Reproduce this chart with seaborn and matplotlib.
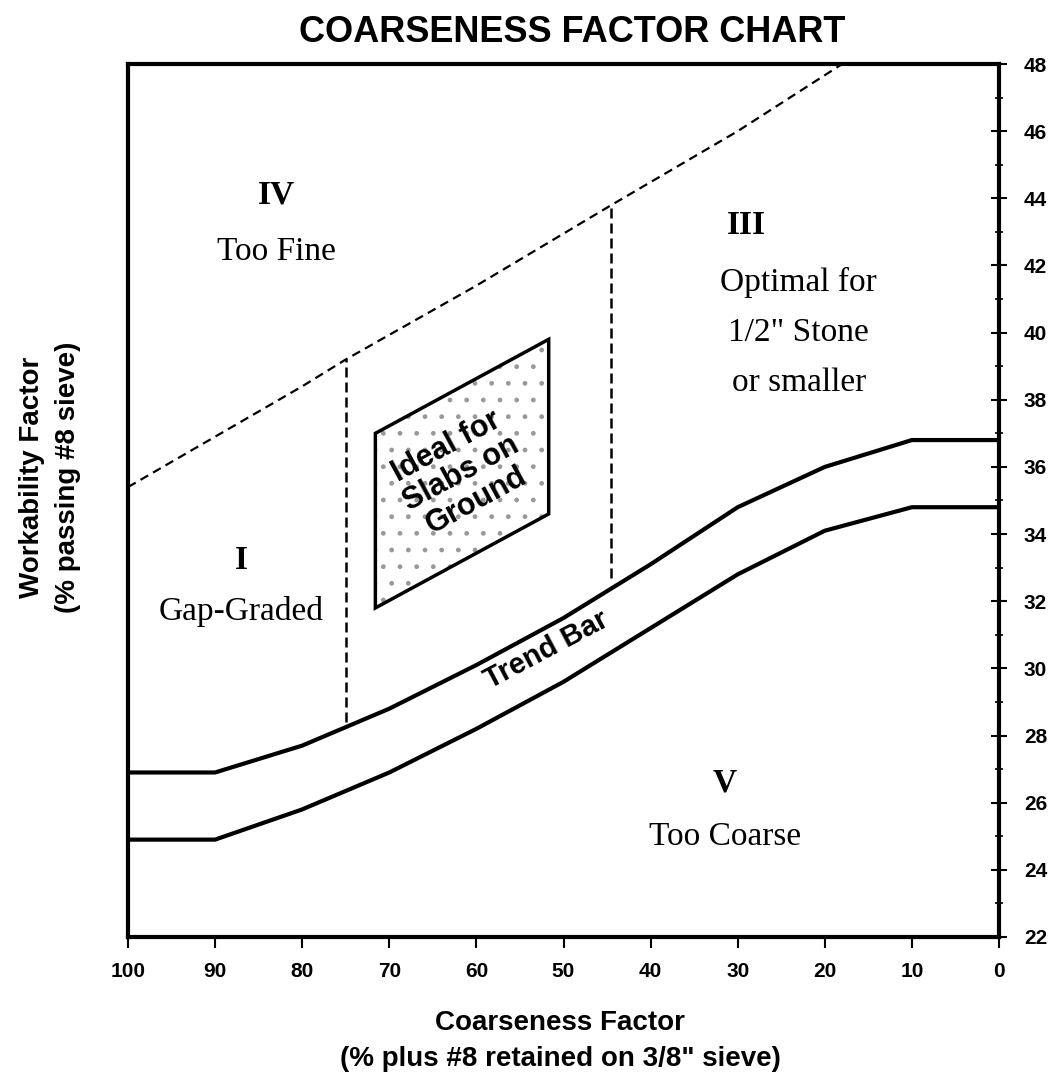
import matplotlib
matplotlib.use("Agg")
import matplotlib.pyplot as plt
import seaborn as sns

# trend bar edges
trend_x = [100, 90, 80, 70, 60, 50, 40, 30, 20, 10, 0]
trend_upper = [26.9, 26.9, 27.7, 28.8, 30.1, 31.5, 33.1, 34.8, 36.0, 36.8, 36.8]
trend_lower = [24.9, 24.9, 25.8, 26.9, 28.2, 29.6, 31.2, 32.8, 34.1, 34.8, 34.8]

# dashed boundary of zone IV (too fine)
fine_x = [100, 90, 80, 75, 60, 44.5, 30, 18]
fine_y = [35.4, 36.9, 38.4, 39.2, 41.4, 43.8, 46.0, 48.0]

# dashed zone dividers
divider_x = [75, 44.5]
divider_bottom = [28.4, 32.7]
divider_top = [39.2, 43.8]

# "ideal for slabs on ground" box corners
box_x = [71.6, 51.7, 51.7, 71.6]
box_y = [31.8, 34.6, 39.8, 37.0]

x_ticks = list(range(100, -1, -10))
y_ticks = list(range(22, 49, 2))
y_minor = list(range(23, 48, 2))

sns.set_theme(style="white")
plt.rcParams['font.family'] = ['Liberation Sans', 'DejaVu Sans']
plt.rcParams['text.color'] = 'black'
plt.rcParams['axes.labelcolor'] = 'black'

fig = plt.figure(figsize=(10.54, 10.91), dpi=100)
ax = fig.add_axes([128 / 1054, 1 - 937 / 1091, 871 / 1054, 873 / 1091])

# trend bar
sns.lineplot(x=trend_x, y=trend_upper, ax=ax, color='black', linewidth=3, sort=False)
sns.lineplot(x=trend_x, y=trend_lower, ax=ax, color='black', linewidth=3, sort=False)

# dashed zone lines
sns.lineplot(x=fine_x, y=fine_y, ax=ax, color='black', linewidth=1.6,
             linestyle=(0, (4, 2.5)), sort=False)
ax.vlines(divider_x, divider_bottom, divider_top, colors='black',
          linewidth=1.8, linestyles=(0, (4, 2)))

# stippled box
ax.fill(box_x, box_y, facecolor='white', edgecolor='0.6', hatch='.', linewidth=0)
ax.fill(box_x, box_y, facecolor='none', edgecolor='black', linewidth=2.5)
ax.text(61.7, 35.8, "Ideal for\nSlabs on\nGround", rotation=28.5, ha='center', va='center',
        fontsize=22, fontweight='bold', linespacing=1.05, rotation_mode='anchor')

ax.text(52, 30.55, "Trend Bar", rotation=28, ha='center', va='center',
        fontsize=21, fontweight='bold', rotation_mode='anchor')

# zone labels
serif = ['Liberation Serif', 'DejaVu Serif']
ax.text(83, 44.1, "IV", family=serif, fontsize=24, fontweight='bold', ha='center', va='center')
ax.text(83, 42.4, "Too Fine", family=serif, fontsize=24, ha='center', va='center')
ax.text(29, 43.2, "III", family=serif, fontsize=24, fontweight='bold', ha='center', va='center')
ax.text(23, 41.5, "Optimal for", family=serif, fontsize=24, ha='center', va='center')
ax.text(23, 40.0, "1/2\" Stone", family=serif, fontsize=24, ha='center', va='center')
ax.text(23, 38.5, "or smaller", family=serif, fontsize=24, ha='center', va='center')
ax.text(87, 33.2, "I", family=serif, fontsize=24, fontweight='bold', ha='center', va='center')
ax.text(87, 31.7, "Gap-Graded", family=serif, fontsize=24, ha='center', va='center')
ax.text(31.5, 26.6, "V", family=serif, fontsize=24, fontweight='bold', ha='center', va='center')
ax.text(31.5, 25.0, "Too Coarse", family=serif, fontsize=24, ha='center', va='center')

ax.set_xlim(100, 0)
ax.set_ylim(22, 48)
ax.set_xticks(x_ticks)
ax.set_yticks(y_ticks)
ax.set_yticks(y_minor, minor=True)
ax.yaxis.tick_right()
ax.tick_params(axis='x', direction='out', length=8, width=1.5, labelsize=15, pad=10,
               bottom=True, colors='black')
ax.tick_params(axis='y', which='major', direction='inout', length=12, width=1.5,
               labelsize=15, pad=12, right=True, colors='black')
ax.tick_params(axis='y', which='minor', direction='inout', length=6, width=1.2, right=True,
               colors='black')
for lab in ax.get_xticklabels() + ax.get_yticklabels():
    lab.set_fontweight('bold')

for s in ax.spines.values():
    s.set_linewidth(3)
    s.set_color('black')

ax.set_xlabel("Coarseness Factor\n(% plus #8 retained on 3/8\" sieve)", fontsize=20,
              fontweight='bold', va='center', linespacing=1.5)
ax.xaxis.set_label_coords(0.496, -0.119)
ax.yaxis.set_label_position('left')
ax.set_ylabel("Workability Factor\n(% passing #8 sieve)", fontsize=20,
              fontweight='bold', va='center', linespacing=1.5)
ax.yaxis.set_label_coords(-0.09, 0.526)

fig.suptitle("COARSENESS FACTOR CHART", x=572 / 1054, y=1 - 32 / 1091, va='center',
             fontsize=26, fontweight='bold')

fig.savefig("out.png", dpi=100)
